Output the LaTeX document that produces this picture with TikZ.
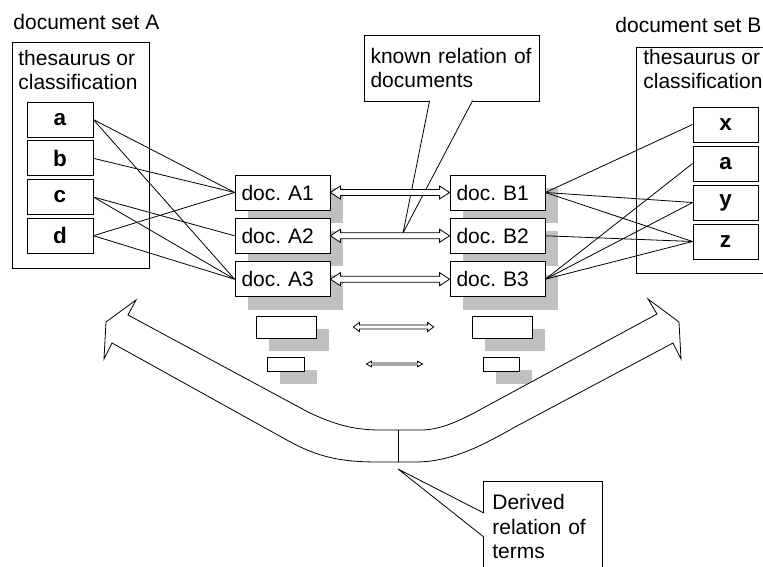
\documentclass[tikz,border=0pt]{standalone}
\usepackage{fontspec}
\setmainfont{Liberation Sans}
\usetikzlibrary{calc, shadows}

\definecolor{shadowgray}{RGB}{192,192,192}
\frenchspacing

% hollow two-headed arrow: from, to, shaft half width, head half width, head length
\newcommand{\relarrow}[5]{%
    \draw [fill = white] (#1) -- ++(#5,-#4) -- ++(0,#4-#3) -- ($(#2)+(-#5,-#3)$) -- ++(0,#3-#4) -- (#2)
        -- ++(-#5,#4) -- ++(0,#3-#4) -- ($(#1)+(#5,#3)$) -- ++(0,#4-#3) -- cycle;}

\begin{document}
\begin{tikzpicture}[x = 1pt, y = -1pt, line width = 0.8pt,
    every node/.style = {font = \fontsize{21}{24.5}\selectfont},
    plaintext/.style = {inner sep = 0pt, anchor = base west, align = left},
    shadowed/.style = {drop shadow = {shadow xshift = 13pt, shadow yshift = -13pt, fill = shadowgray, opacity = 1}},
    termbox/.style = {draw, fill = white, minimum width = 66pt, minimum height = 35pt, inner sep = 0pt, font = \fontsize{22.5}{24.5}\selectfont\bfseries},
    docbox/.style = {draw, fill = white, shadowed, minimum height = 35pt, inner xsep = 6.5pt, text width = 82pt, align = left},
    ghostbox/.style = {draw, fill = white, shadowed, inner sep = 0pt},
    callout/.style = {draw, fill = white, align = left}]

    \clip (0,0) rectangle (763,567);

    % document set A
    \node (setA) [plaintext] at (13,30) {document set A};
    \draw (12,42) rectangle (149,268);
    \node (thesA) [plaintext] at (18,90) {thesaurus or\\classification};
    \foreach \tm [count = \i] in {a, b, c, d}
    {
        \node (A\tm) [termbox] at (60, 80.9 + 38.7*\i) {\tm};
    }

    % document set B
    \node (setB) [plaintext] at (615,33) {document set B};
    \draw (636,47) rectangle (775,273);
    \node (thesB) [plaintext] at (643,89) {thesaurus or\\classification};
    \foreach \tm [count = \i] in {x, a, y, z}
    {
        \node (B\tm) [termbox, minimum width = 65pt] at (725.5, 85.5 + 39*\i) {\tm};
    }

    % documents
    \foreach \i/\y in {1/192.5, 2/235.8, 3/279.2}
    {
        \node (docA\i) [docbox] at (282.5, \y) {doc. A\i};
        \node (docB\i) [docbox] at (497.5, \y) {doc. B\i};
    }

    \node (midA) [ghostbox, minimum width = 60pt, minimum height = 22pt] at (286,327) {};
    \node (midB) [ghostbox, minimum width = 60pt, minimum height = 22pt] at (502,327) {};
    \node (lowA) [ghostbox, minimum width = 37pt, minimum height = 14pt] at (285.5,364) {};
    \node (lowB) [ghostbox, minimum width = 36pt, minimum height = 14pt] at (501,364) {};

    % known relation
    \node (known) [callout, minimum width = 175pt, minimum height = 66pt, text width = 162pt, inner xsep = 6.5pt] at (451.5,68) {known relation of\\documents};
    \coordinate (knowntip) at (403,233);
    \draw [fill = white] ([xshift = 66pt, yshift = 0.8pt]known.south west) -- (knowntip) -- ([xshift = 109pt, yshift = 0.8pt]known.south west);

    \foreach \i in {1, 2, 3}
    {
        \relarrow{docA\i.east}{docB\i.west}{3}{6.5}{10}
    }
    \relarrow{$(midA.east)+(37,0)$}{$(midB.west)+(-38,0)$}{2}{4.5}{6}
    \relarrow{$(lowA.east)+(62,0)$}{$(lowB.west)+(-60,0)$}{1}{2.8}{5}

    % terms to documents
    \foreach \tm/\dc in {a/1, a/3, b/1, c/2, c/3, d/1, d/3}
    {
        \draw (A\tm.east) -- (docA\dc.west);
    }
    \foreach \dc/\tm in {1/x, 1/y, 1/z, 2/z, 3/a, 3/y, 3/z}
    {
        \draw (docB\dc.east) -- (B\tm.west);
    }

    % derived relation
    \draw [fill = white] (128,315) -- (136,300) -- (106,322) -- (104,359) -- (112,343) -- (285,439)
        .. controls (320,459) and (345,462) .. (380,462) -- (415,462)
        .. controls (450,462) and (480,447) .. (515,427) -- (673,343) -- (681,359) -- (679,322) -- (648,299) -- (657,314) -- (485,407)
        .. controls (460,421) and (440,430) .. (421,430) -- (380,430)
        .. controls (355,430) and (335,425) .. (308,412) -- cycle;
    \draw (398,430) -- (398,462);

    \node (derived) [callout, anchor = north west, text width = 101pt, inner xsep = 9pt, inner ysep = 13pt] at (483,481) {Derived\\relation of\\terms};
    \coordinate (derivedtip) at (398,469);
    \draw [fill = white] ([yshift = -32pt, xshift = 0.8pt]derived.north west) -- (derivedtip) -- ([yshift = -56pt, xshift = 0.8pt]derived.north west);
\end{tikzpicture}
\end{document}
